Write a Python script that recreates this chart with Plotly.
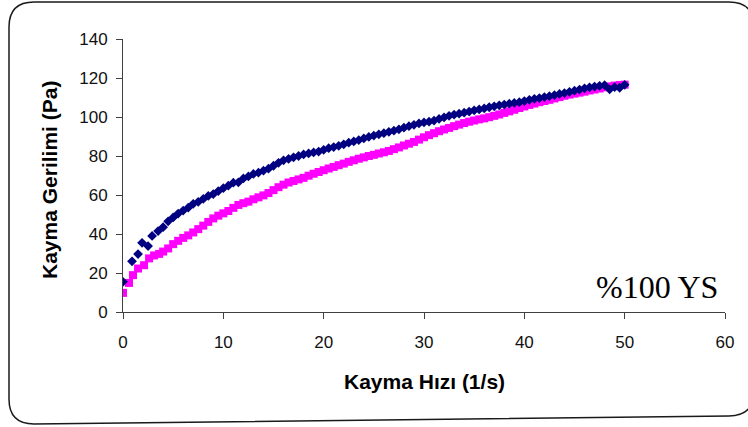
import plotly.graph_objects as go

# Series 1 (navy diamonds)
navy_x = [0, 0.9, 1.5, 1.9, 2.5, 2.9, 3.5, 4.0, 4.5, 5.0, 5.5, 6.0, 6.5, 7.0, 7.5, 8.0, 8.5, 9.0, 9.5, 10.0,
          10.5, 11.0, 11.5, 12.0, 12.5, 13.0, 13.5, 14.0, 14.5, 15.0, 15.5, 16.0, 16.5, 17.0, 17.5, 18.0,
          18.5, 19.0, 19.5, 20.0, 20.5, 21.0, 21.5, 22.0, 22.5, 23.0, 23.5, 24.0, 24.5, 25.0, 25.5, 26.0,
          26.5, 27.0, 27.5, 28.0, 28.5, 29.0, 29.5, 30.0, 30.5, 31.0, 31.5, 32.0, 32.5, 33.0, 33.5, 34.0,
          34.5, 35.0, 35.5, 36.0, 36.5, 37.0, 37.5, 38.0, 38.5, 39.0, 39.5, 40.0, 40.5, 41.0, 41.5, 42.0,
          42.5, 43.0, 43.5, 44.0, 44.5, 45.0, 45.5, 46.0, 46.5, 47.0, 47.5, 48.0, 48.5, 49.0, 49.5, 50.0]
navy_y = [15.5, 26, 29.7, 35.5, 33.8, 39, 41.5, 43.5, 46.5, 48.5, 50.5, 52, 53.5, 55.5, 56.5, 58, 59.5, 60.5, 62, 63.5,
          64.8, 66.3, 66.5, 68.5, 69.5, 70.8, 71.5, 72.5, 73.5, 75, 76.5, 77.8, 78.5, 79.3, 80, 80.8,
          81.3, 81.8, 82.3, 83.2, 84, 84.6, 85.2, 86, 86.8, 87.5, 88.2, 89, 89.8, 90.5, 91.1, 91.7,
          92.4, 93, 93.7, 94.5, 95.3, 96, 96.7, 97.2, 97.6, 98.2, 99, 99.8, 100.6, 101.2, 101.7, 102.2,
          102.8, 103.4, 103.9, 104.4, 105, 105.5, 106, 106.4, 106.8, 107.2, 107.6, 108.2, 108.8, 109.3, 109.7, 110.2,
          110.7, 111.2, 111.8, 112.3, 112.9, 113.5, 114.1, 114.7, 115.2, 115.6, 116, 116.3, 114.2, 115.3, 115, 116.5]

# Series 2 (magenta squares)
pink_x = [0, 0.6, 1.0, 1.5, 2.1, 2.6, 3.1, 3.6, 4.0, 4.5, 5.0, 5.5, 6.0, 6.5, 7.0, 7.5, 8.0, 8.5, 9.0, 9.5, 10.0,
          10.5, 11.0, 11.5, 12.0, 12.5, 13.0, 13.5, 14.0, 14.5, 15.0, 15.5, 16.0, 16.5, 17.0, 17.5, 18.0,
          18.5, 19.0, 19.5, 20.0, 20.5, 21.0, 21.5, 22.0, 22.5, 23.0, 23.5, 24.0, 24.5, 25.0, 25.5, 26.0,
          26.5, 27.0, 27.5, 28.0, 28.5, 29.0, 29.5, 30.0, 30.5, 31.0, 31.5, 32.0, 32.5, 33.0, 33.5, 34.0,
          34.5, 35.0, 35.5, 36.0, 36.5, 37.0, 37.5, 38.0, 38.5, 39.0, 39.5, 40.0, 40.5, 41.0, 41.5, 42.0,
          42.5, 43.0, 43.5, 44.0, 44.5, 45.0, 45.5, 46.0, 46.5, 47.0, 47.5, 48.0, 48.5, 49.0, 49.5, 50.0]
pink_y = [9.8, 14.9, 18.9, 22.3, 24, 27.5, 29, 29.8, 31, 32.6, 34.8, 36.5, 38, 39.3, 40.8, 42.5, 44.3, 46.2, 48, 49.4, 50.6,
          51.8, 53.4, 54.9, 55.8, 56.6, 57.8, 58.8, 59.8, 61, 62.5, 64, 65.3, 66.4, 67.2, 68, 68.8,
          69.9, 70.9, 71.8, 72.7, 73.6, 74.4, 75.3, 76.1, 77, 77.8, 78.6, 79.3, 80, 80.6, 81.3, 81.9,
          82.6, 83.5, 84.4, 85.4, 86.3, 87.2, 88.4, 89.6, 90.7, 91.7, 92.7, 93.6, 94.4, 95.3, 96.1, 96.9,
          97.6, 98.2, 98.8, 99.3, 99.9, 100.6, 101.3, 102.1, 102.9, 103.7, 104.6, 105.4, 106.2, 106.9, 107.6, 108.2,
          108.8, 109.5, 110.2, 110.9, 111.5, 112, 112.5, 113, 113.6, 114.1, 114.6, 115.2, 115.7, 116.1, 116.4, 116.6]

x_ticks = [0, 10, 20, 30, 40, 50, 60]
y_ticks = [0, 20, 40, 60, 80, 100, 120, 140]

W, H = 748, 427
ML, MR, MT, MB = 123, 23, 39, 115
PW, PH = W - ML - MR, H - MT - MB

def px(xp):
    return (xp - ML) / PW

def py(yp):
    return (H - MB - yp) / PH

fig = go.Figure()
fig.add_trace(go.Scatter(x=pink_x, y=pink_y, mode="markers",
                         marker=dict(symbol="square", size=8, color="#FF00FF", line=dict(width=0)),
                         showlegend=False))
fig.add_trace(go.Scatter(x=navy_x, y=navy_y, mode="markers",
                         marker=dict(symbol="diamond", size=7.5, color="#000080", line=dict(width=0)),
                         showlegend=False))

axis_common = dict(showgrid=False, zeroline=False, showline=True, linecolor="#404040", linewidth=1,
                   ticks="outside", ticklen=6, tickcolor="#404040", tickwidth=1,
                   tickfont=dict(family="Liberation Sans, Arial", size=17, color="#111"))

fig.update_xaxes(range=[0, 60], tickvals=x_ticks, ticktext=[str(v) for v in x_ticks],
                 ticklabelstandoff=9, **axis_common)
fig.update_yaxes(range=[0, 140], tickvals=y_ticks, ticktext=[str(v) for v in y_ticks],
                 ticklabelstandoff=5, **axis_common)

# rounded chart frame
path = (f"M {px(9)},{py(27)} Q {px(9)},{py(2)} {px(34)},{py(2)} "
        f"L {px(729)},{py(2)} Q {px(754)},{py(2)} {px(754)},{py(27)} "
        f"L {px(754)},{py(391)} Q {px(754)},{py(416)} {px(729)},{py(416)} "
        f"L {px(34)},{py(424)} Q {px(9)},{py(424)} {px(9)},{py(399)} Z")
fig.add_shape(type="path", xref="paper", yref="paper", path=path,
              line=dict(color="#1a1a1a", width=1.5), fillcolor="rgba(0,0,0,0)", layer="below")

fig.add_annotation(xref="paper", yref="paper", x=px(424), y=py(381), text="<b>Kayma Hızı (1/s)</b>",
                   showarrow=False, xanchor="center", yanchor="middle",
                   font=dict(family="Liberation Sans, Arial", size=21, color="#000"))
fig.add_annotation(xref="paper", yref="paper", x=px(50), y=py(180), text="<b>Kayma Gerilimi (Pa)</b>",
                   showarrow=False, xanchor="center", yanchor="middle", textangle=-90,
                   font=dict(family="Liberation Sans, Arial", size=21, color="#000"))
fig.add_annotation(xref="paper", yref="paper", x=px(720), y=py(287), text="%100 YS",
                   showarrow=False, xanchor="right", yanchor="middle",
                   font=dict(family="Liberation Serif, Times New Roman", size=32, color="#000"))

fig.update_layout(width=W, height=H, margin=dict(l=ML, r=MR, t=MT, b=MB, pad=0),
                  paper_bgcolor="white", plot_bgcolor="white", showlegend=False)

fig.write_html("out.html")
